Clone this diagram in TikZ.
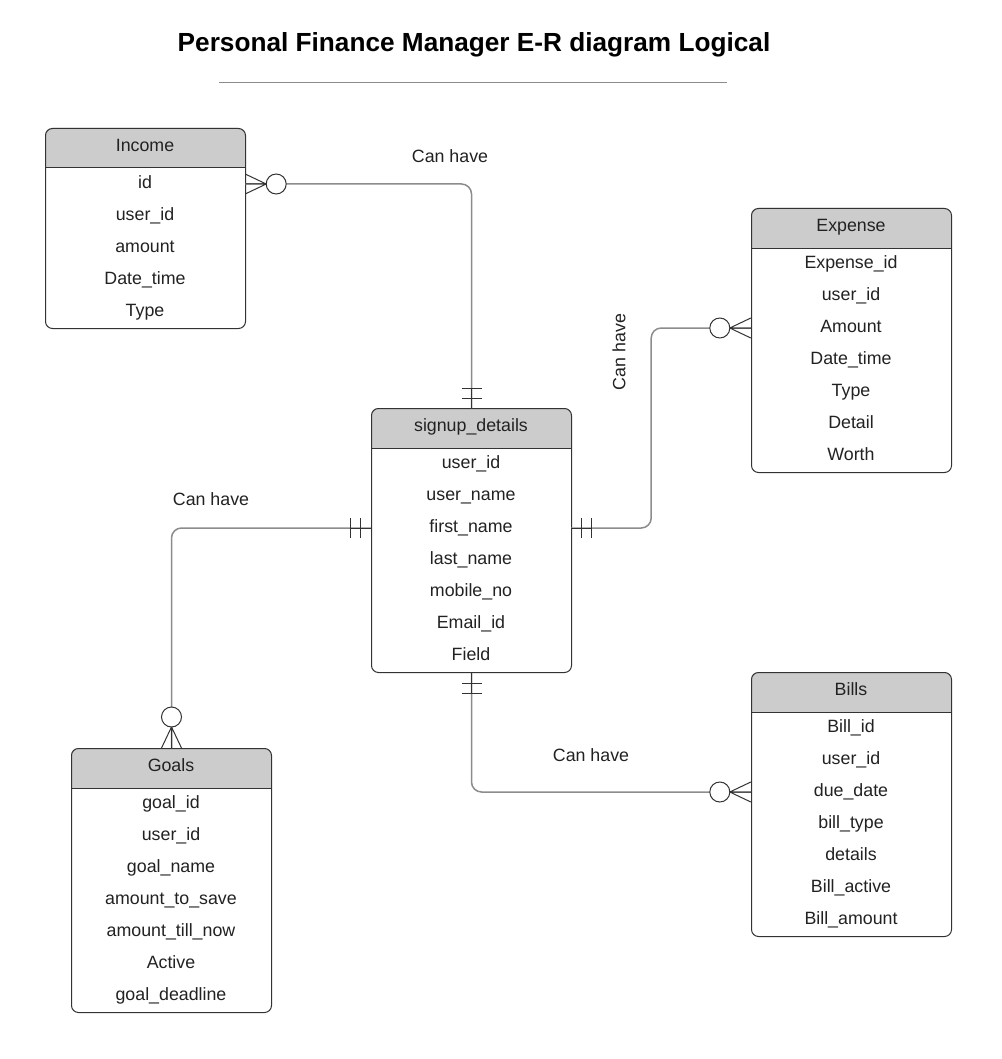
\documentclass[tikz,border=0pt]{standalone}
\usepackage{fontspec}
\setmainfont{Liberation Sans}
\usetikzlibrary{calc}
\definecolor{hdrc}{HTML}{CCCCCC}
\definecolor{bordc}{HTML}{333333}
\definecolor{connc}{HTML}{8C8C8C}
\definecolor{txtc}{HTML}{222222}
\tikzset{
  entbox/.style={draw=bordc, line width=1pt, rounded corners=7pt, minimum width=200pt, inner sep=0pt, rectangle},
  rowtext/.style={minimum width=200pt, inner sep=0pt, text height=12.5pt, text depth=4pt, font=\fontsize{17.8}{20}\selectfont, text=txtc},
  lbl/.style={inner sep=0pt, text height=12.5pt, text depth=4pt, font=\fontsize{17.8}{20}\selectfont, text=txtc},
  conn/.style={draw=connc, line width=1.5pt, rounded corners=10pt},
  symc/.style={draw=bordc, line width=1pt},
  zeromany/.pic={\draw[symc] (0,-10)--(21,0) (0,0)--(21,0) (0,10)--(21,0);
                 \draw[symc,fill=white] (31,0) circle[radius=10pt];},
  onlyone/.pic={\draw[symc] (0,0)--(20,0) (10,-10)--(10,10) (20,-10)--(20,10);}
}
\newcommand\erentity[6]{%
  \fill[hdrc] (#2,#3+40) [rounded corners=7pt] -- (#2,#3) -- (#2+200,#3) [sharp corners] -- (#2+200,#3+40) -- cycle;
  \node[entbox, minimum height={(40+32*#4)*1pt}, anchor=north west] (#1) at (#2,#3) {};
  \draw[bordc, line width=1pt] (#2,#3+40) -- (#2+200,#3+40);
  \node[rowtext] (#1-h) at (#2+100,#3+19) {#5};
  \foreach \t [count=\i] in {#6} {\node[rowtext] (#1-\i) at (#2+100,#3+56+32*\i-32) {\t};}
}
\begin{document}
\begin{tikzpicture}[x=1pt,y=-1pt]
\useasboundingbox[fill=white] (0,0) rectangle (1001,1059);
\node[inner sep=0pt, font=\bfseries\fontsize{26.2}{30}\selectfont] (title) at (474,45) {Personal Finance Manager E-R diagram Logical};
\draw[connc, line width=1pt] (219,83) -- (727,83);

\erentity{income}{45}{128}{5}{Income}{id,user\_id,amount,Date\_time,Type}
\erentity{expense}{751}{208}{7}{Expense}{Expense\_id,user\_id,Amount,Date\_time,Type,Detail,Worth}
\erentity{signup}{371}{408}{7}{signup\_details}{user\_id,user\_name,first\_name,last\_name,mobile\_no,Email\_id,Field}
\erentity{goals}{71}{748}{7}{Goals}{goal\_id,user\_id,goal\_name,amount\_to\_save,amount\_till\_now,Active,goal\_deadline}
\erentity{bills}{751}{672}{7}{Bills}{Bill\_id,user\_id,due\_date,bill\_type,details,Bill\_active,Bill\_amount}

\draw[conn] (income-1.east) -| (signup.north);
\draw[conn] (signup-3.east) -- ++(80,0) |- (expense-3.west);
\draw[conn] (signup-3.west) -| (goals.north);
\draw[conn] (signup.south) |- (bills-3.west);

\pic at (income-1.east) {zeromany};
\pic[rotate=180] at (expense-3.west) {zeromany};
\pic[rotate=90] at (goals.north) {zeromany};
\pic[rotate=180] at (bills-3.west) {zeromany};
\pic[rotate=90] at (signup.north) {onlyone};
\pic at (signup-3.east) {onlyone};
\pic[rotate=180] at (signup-3.west) {onlyone};
\pic[rotate=-90] at (signup.south) {onlyone};

\node[lbl] (l1) at (450,158) {Can have};
\node[lbl, rotate=90] (l2) at (621,352) {Can have};
\node[lbl] (l3) at (211,501) {Can have};
\node[lbl] (l4) at (591,757) {Can have};
\end{tikzpicture}
\end{document}
